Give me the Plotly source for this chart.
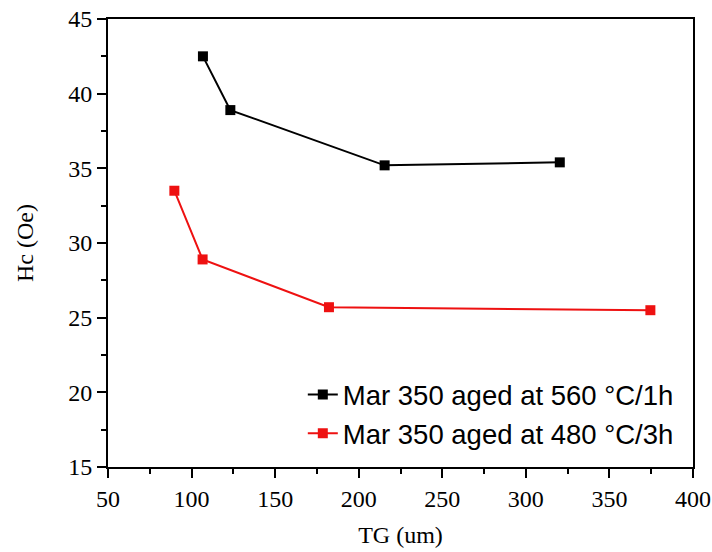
import plotly.graph_objects as go

# Data
tg_560 = [106.8, 123.2, 215.5, 320.3]
hc_560 = [42.5, 38.9, 35.2, 35.4]
tg_480 = [89.7, 106.6, 182.2, 374.5]
hc_480 = [33.5, 28.9, 25.7, 25.5]
name_560 = "Mar 350 aged at 560 °C/1h"
name_480 = "Mar 350 aged at 480 °C/3h"

fig = go.Figure()
fig.add_trace(go.Scatter(x=tg_560, y=hc_560, mode="lines+markers", name=name_560,
                         line=dict(color="black", width=2),
                         marker=dict(symbol="square", size=10, color="black")))
fig.add_trace(go.Scatter(x=tg_480, y=hc_480, mode="lines+markers", name=name_480,
                         line=dict(color="#ee1111", width=2),
                         marker=dict(symbol="square", size=10, color="#ee1111")))

axis_common = dict(showline=True, linecolor="black", linewidth=2, mirror=True,
                   ticks="outside", ticklen=9, tickwidth=2, tickcolor="black",
                   showgrid=False, zeroline=False, automargin=False,
                   ticklabeloverflow="allow",
                   tickfont=dict(family="Liberation Serif", size=24, color="black"))

fig.update_xaxes(range=[50, 400], dtick=50, tick0=50,
                 minor=dict(dtick=25, ticks="outside", ticklen=5, tickwidth=2, tickcolor="black"),
                 title=dict(text="TG (um)", font=dict(family="Liberation Serif", size=24, color="black"), standoff=15),
                 **axis_common)
fig.update_yaxes(range=[15, 45], dtick=5, tick0=15,
                 minor=dict(dtick=2.5, ticks="outside", ticklen=5, tickwidth=2, tickcolor="black"),
                 title=dict(text="Hc (Oe)", font=dict(family="Liberation Serif", size=24, color="black"), standoff=28),
                 **axis_common)

fig.update_layout(
    width=712, height=552,
    margin=dict(l=108, r=19, t=19, b=85),
    paper_bgcolor="white", plot_bgcolor="white",
    showlegend=True,
    legend=dict(x=0.333, y=0.2165, xanchor="left", yanchor="top",
                bgcolor="rgba(0,0,0,0)",
                font=dict(family="Liberation Sans", size=27.5, color="black")),
)

fig.write_html("out.html", config={"displayModeBar": False},
               post_script="document.body.style.margin='0';")
